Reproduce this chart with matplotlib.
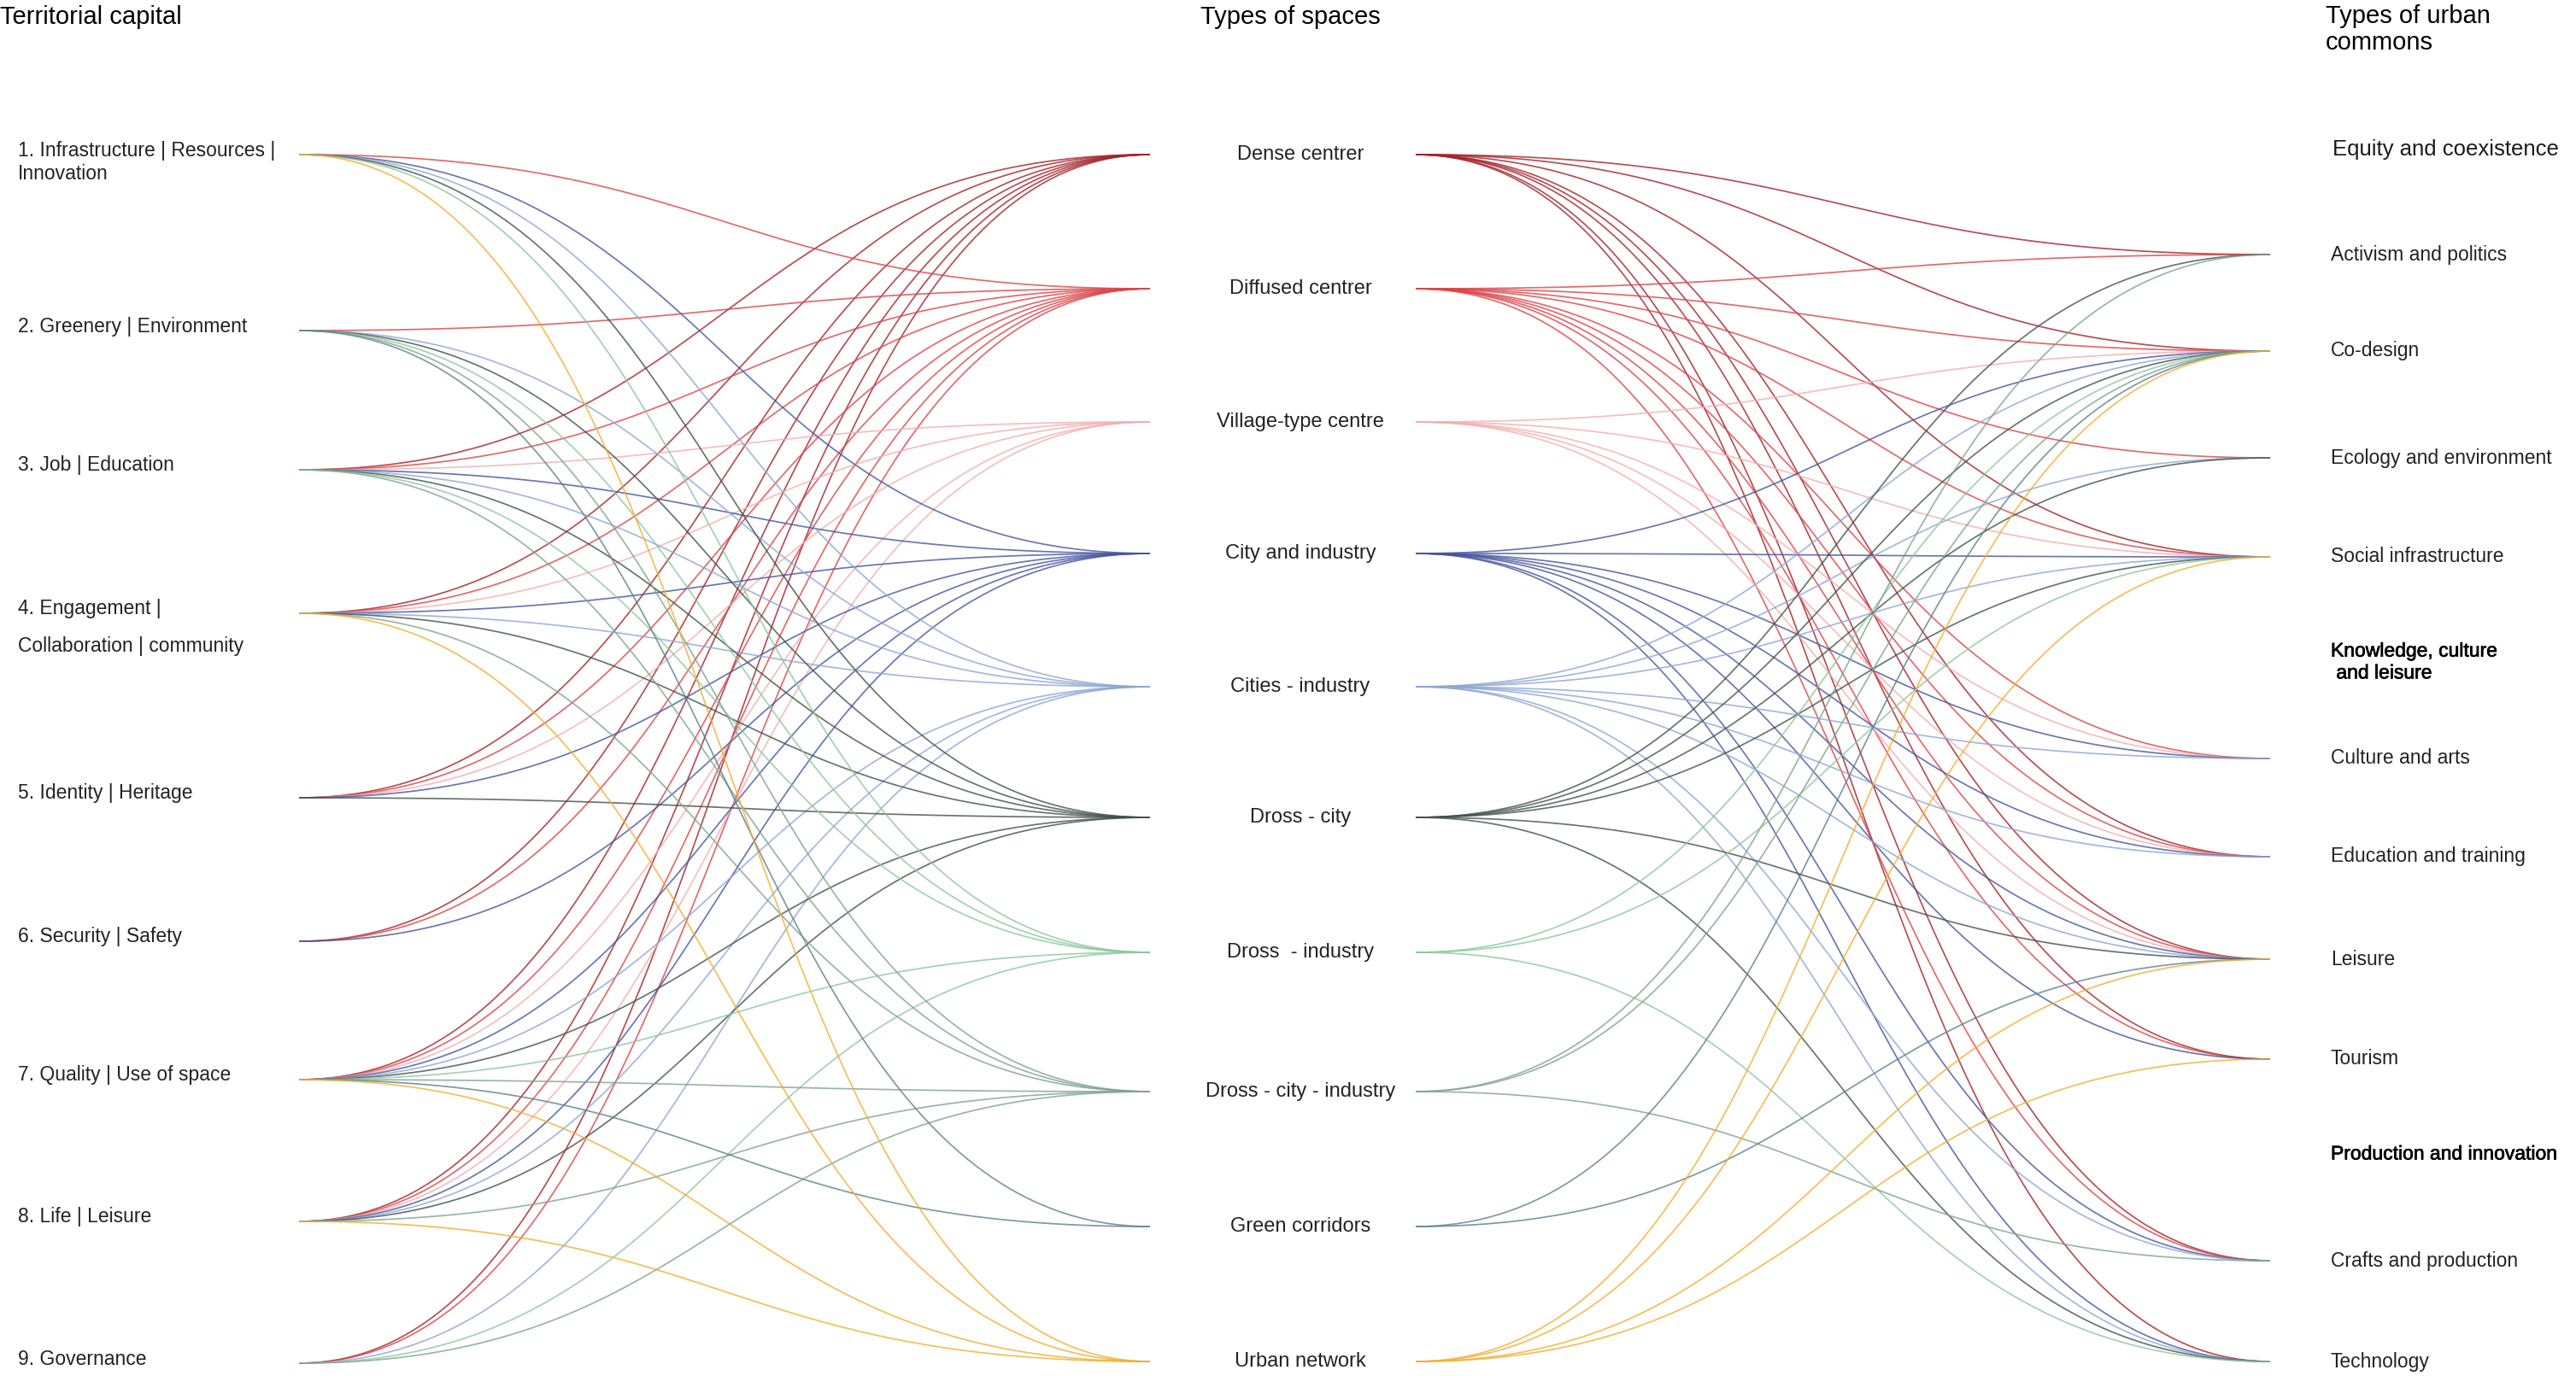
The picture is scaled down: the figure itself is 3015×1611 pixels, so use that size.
import numpy as np
import matplotlib.pyplot as plt
import matplotlib.patheffects as pe

plt.rcParams['font.family'] = ['Liberation Sans', 'DejaVu Sans']

# --- data -------------------------------------------------------------
capital = [
    ["1. Infrastructure | Resources |", "Innovation"],
    ["2. Greenery | Environment"],
    ["3. Job | Education"],
    ["4. Engagement |", "Collaboration | community"],
    ["5. Identity | Heritage"],
    ["6. Security | Safety"],
    ["7. Quality | Use of space"],
    ["8. Life | Leisure"],
    ["9. Governance"],
]

spaces = ["Dense centrer", "Diffused centrer", "Village-type centre",
          "City and industry", "Cities - industry", "Dross - city",
          "Dross  - industry", "Dross - city - industry",
          "Green corridors", "Urban network"]

commons = ["Equity and coexistence", "Activism and politics", "Co-design",
           "Ecology and environment", "Social infrastructure",
           "Knowledge, culture\n and leisure", "Culture and arts",
           "Education and training", "Leisure", "Tourism",
           "Production and innovation", "Crafts and production", "Technology"]
commons_groups = ["Knowledge, culture\n and leisure", "Production and innovation"]

# territorial capital item numbers linked to each type of space
capital_links = {
    "Dense centrer": [3, 4, 5, 6, 7, 8, 9],
    "Diffused centrer": [1, 2, 3, 4, 5, 6, 7, 8, 9],
    "Village-type centre": [3, 4, 5, 7, 8],
    "City and industry": [1, 3, 4, 5, 6, 7, 8],
    "Cities - industry": [1, 2, 3, 4, 7, 8, 9],
    "Dross - city": [1, 2, 3, 4, 5, 7, 8],
    "Dross  - industry": [1, 2, 3, 7, 9],
    "Dross - city - industry": [2, 3, 4, 7, 8, 9],
    "Green corridors": [2, 7],
    "Urban network": [1, 4, 7, 8],
}

# types of urban commons linked to each type of space
commons_links = {
    "Dense centrer": ["Activism and politics", "Co-design", "Social infrastructure",
                      "Education and training", "Leisure", "Tourism",
                      "Crafts and production", "Technology"],
    "Diffused centrer": ["Activism and politics", "Co-design", "Ecology and environment",
                         "Social infrastructure", "Culture and arts",
                         "Education and training", "Leisure", "Tourism",
                         "Crafts and production"],
    "Village-type centre": ["Co-design", "Social infrastructure", "Culture and arts",
                            "Education and training", "Leisure"],
    "City and industry": ["Co-design", "Social infrastructure", "Culture and arts",
                          "Education and training", "Leisure", "Tourism",
                          "Crafts and production", "Technology"],
    "Cities - industry": ["Co-design", "Ecology and environment", "Social infrastructure",
                          "Culture and arts", "Education and training", "Leisure",
                          "Crafts and production", "Technology"],
    "Dross - city": ["Activism and politics", "Co-design", "Ecology and environment",
                     "Social infrastructure", "Leisure", "Technology"],
    "Dross  - industry": ["Co-design", "Social infrastructure", "Technology"],
    "Dross - city - industry": ["Activism and politics", "Co-design",
                                "Crafts and production"],
    "Green corridors": ["Co-design", "Leisure"],
    "Urban network": ["Co-design", "Social infrastructure", "Leisure", "Tourism"],
}

space_colors = ["#a3232a", "#dc4448", "#f3aeb0", "#45559e", "#8ea6d4",
                "#43524a", "#8cc79c", "#7fa48d", "#5a8290", "#f2ae2e"]

# --- layout -----------------------------------------------------------
W, H = 3015, 1611
left_y = [181, 387, 550, 718, 934, 1102, 1264, 1430, 1596]
mid_y = [181, 338, 494, 648, 804, 957, 1115, 1278, 1436, 1594]
right_y = [175, 298, 411, 536, 652, 775, 888, 1003, 1123, 1240, 1351, 1476, 1594]
x_left, x_mid_in, x_mid_out, x_right = 350, 1346, 1657, 2657


def link(ax, x0, y0, x1, y1, color):
    # horizontal cubic bezier, control points at mid x
    t = np.linspace(0, 1, 120)
    xm = (x0 + x1) / 2
    xs = (1 - t) ** 3 * x0 + 3 * (1 - t) ** 2 * t * xm + 3 * (1 - t) * t ** 2 * xm + t ** 3 * x1
    ys = (1 - t) ** 3 * y0 + 3 * (1 - t) ** 2 * t * y0 + 3 * (1 - t) * t ** 2 * y1 + t ** 3 * y1
    ax.plot(xs, ys, color=color, lw=1.25, alpha=0.8, solid_capstyle='butt')


fig = plt.figure(figsize=(W / 100, H / 100), dpi=100)
ax = fig.add_axes([0, 0, 1, 1])
ax.set_xlim(0, W)
ax.set_ylim(H, 0)
ax.axis('off')

for j, name in enumerate(spaces):
    for num in capital_links[name]:
        link(ax, x_left, left_y[num - 1], x_mid_in, mid_y[j], space_colors[j])
    for target in commons_links[name]:
        k = commons.index(target)
        link(ax, x_mid_out, mid_y[j], x_right, right_y[k], space_colors[j])

# headers
ax.text(0, 20, "Territorial capital", fontsize=21, va='center', ha='left')
ax.text(1405, 20, "Types of spaces", fontsize=21, va='center', ha='left')
ax.text(2722, 19, "Types of urban", fontsize=21, va='center', ha='left')
ax.text(2722, 50, "commons", fontsize=21, va='center', ha='left')

# left labels
gaps = {0: 27, 3: 43}
for i, lines in enumerate(capital):
    y = left_y[i] - 5
    for n, line in enumerate(lines):
        ax.text(21, y + n * gaps.get(i, 0), line, fontsize=16.5, va='center',
                ha='left', color='#222222')

# middle labels
for j, name in enumerate(spaces):
    ax.text(1522, mid_y[j], name, fontsize=17, va='center', ha='center', color='#222222')

# right labels
medium = [pe.withStroke(linewidth=0.5, foreground='#000000')]
for k, name in enumerate(commons):
    if name == "Equity and coexistence":
        ax.text(2730, right_y[k], name, fontsize=18.5, va='center', ha='left', color='#1a1a1a')
    elif name in commons_groups:
        ax.text(2728, right_y[k], name, fontsize=16.5, va='center', ha='left',
                color='#000000', linespacing=1.15, path_effects=medium)
    else:
        ax.text(2728, right_y[k], name, fontsize=16.5, va='center', ha='left', color='#222222')

fig.savefig("out.png", dpi=100)
